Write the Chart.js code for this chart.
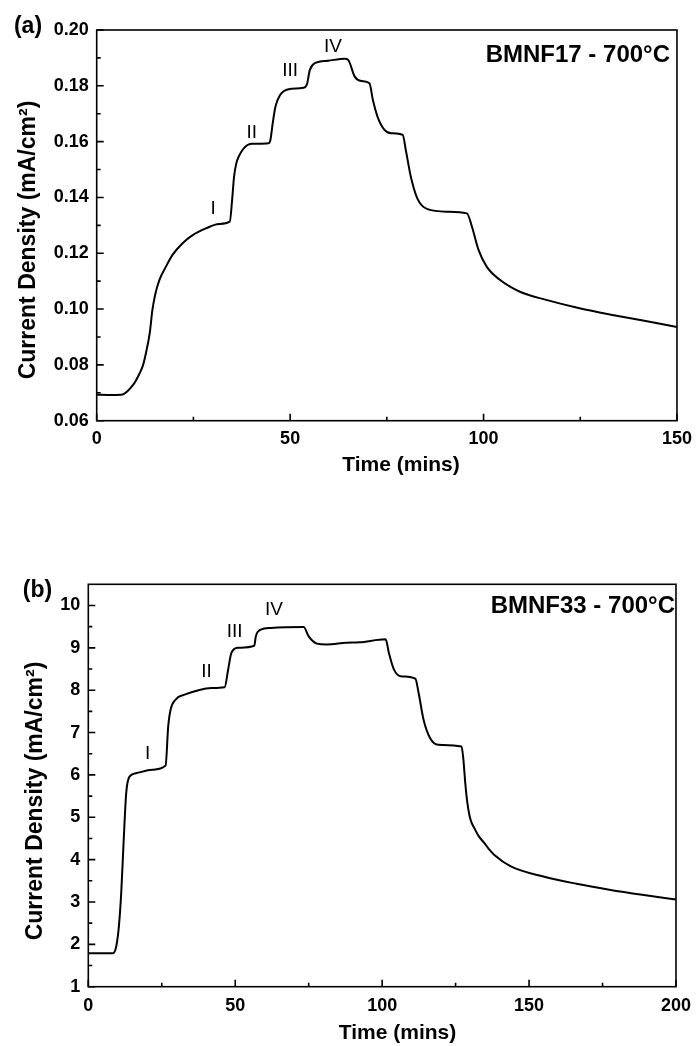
<!DOCTYPE html>
<html lang="en">
<head>
    <meta charset="UTF-8">
    <title>Current Density vs Time</title>
    <script src="https://cdn.jsdelivr.net/npm/chart.js"></script>
    <style>
        body {
            margin: 0;
            background: #fff;
        }
        #wrap {
            position: relative;
            width: 700px;
            height: 1046px;
        }
        #chartA { position: absolute; left: 0; top: 0; }
        #chartB { position: absolute; left: 0; top: 510px; }
    </style>
</head>
<body>
<div id="wrap">
    <canvas id="chartA" width="700" height="510"></canvas>
    <canvas id="chartB" width="700" height="536"></canvas>
</div>

<script>
// (a) BMNF17 - 700°C
const timeA = [0, 3, 6.4, 9.4, 11.1, 12.0, 12.8, 13.7, 14.4, 15.2, 16.2, 17.9, 19.6, 22.2, 24.8, 28.2, 31.6, 34.4,
    35.0, 35.5, 36.1, 36.7, 38.0, 40.2, 44.4, 44.9, 45.5, 46.2, 47.4, 49.6, 53.4, 54.3, 55.1, 56.4,
    59.8, 64.1, 65.0, 66.7, 68.4, 70.5, 71.4, 72.6, 74.4, 76.1, 79.1, 79.9, 81.2, 82.9, 85.5, 90.6,
    95.7, 97.0, 98.7, 100.8, 104.3, 109.4, 116.2, 124.8, 133.3, 141.9, 150];
const currentA = [0.0693, 0.0692, 0.0693, 0.0728, 0.0770, 0.0800, 0.0847, 0.0913, 0.0997, 0.1057, 0.1104, 0.1152, 0.1194, 0.1236, 0.1265, 0.1289, 0.1305, 0.1313,
    0.1390, 0.1474, 0.1523, 0.1546, 0.1576, 0.1592, 0.1594, 0.1606, 0.1666, 0.1725, 0.1767, 0.1788, 0.1793, 0.1803, 0.1857, 0.1881,
    0.1890, 0.1897, 0.1893, 0.1833, 0.1817, 0.1809, 0.1749, 0.1689, 0.1642, 0.1630, 0.1624, 0.1570, 0.1474, 0.1396, 0.1358, 0.1349,
    0.1343, 0.1295, 0.1212, 0.1152, 0.1104, 0.1062, 0.1033, 0.1003, 0.0979, 0.0957, 0.0936];
const xTicksA = [0, 50, 100, 150];
const yTicksA = [0.06, 0.08, 0.10, 0.12, 0.14, 0.16, 0.18, 0.20];
const stepLabelsA = ['I', 'II', 'III', 'IV'];
const stepTimeA = [30.1, 40.1, 50.0, 61.1];
const stepCurrentA = [0.1359, 0.1632, 0.1853, 0.1939];

// (b) BMNF33 - 700°C
const timeB = [0, 8.4, 9.5, 10.4, 11.2, 12.0, 12.9, 14.0, 16.2, 21.8, 26.3, 27.2, 28.0, 29.7, 33.0, 37.5,
    41.9, 46.4, 47.6, 48.7, 50.9, 56.5, 57.0, 58.7, 62.1, 73.3, 75.0, 77.8, 81.1, 87.8, 92.3, 101.2,
    102.3, 104.0, 106.3, 111.3, 112.4, 114.1, 116.3, 119.1, 127.0, 127.6, 128.3, 129.0, 129.8, 130.5,
    131.4, 132.8, 134.8, 136.2, 138.2, 143.8, 154.9, 166.1, 177.3, 188.5, 200];
const currentB = [1.79, 1.79, 1.95, 2.42, 3.21, 4.39, 5.57, 5.96, 6.04, 6.12, 6.22, 7.15, 7.54, 7.78, 7.90, 8.00,
    8.05, 8.07, 8.49, 8.88, 9.00, 9.05, 9.27, 9.43, 9.47, 9.49, 9.27, 9.10, 9.08, 9.12, 9.13, 9.20,
    8.88, 8.49, 8.33, 8.27, 7.94, 7.30, 6.87, 6.71, 6.67, 6.40, 5.80, 5.34, 5.02, 4.86,
    4.74, 4.56, 4.39, 4.26, 4.11, 3.84, 3.60, 3.43, 3.29, 3.17, 3.06];
const xTicksB = [0, 50, 100, 150, 200];
const yTicksB = [1, 2, 3, 4, 5, 6, 7, 8, 9, 10];
const stepLabelsB = ['I', 'II', 'III', 'IV'];
const stepTimeB = [20.2, 40.2, 49.8, 63.2];
const stepCurrentB = [6.51, 8.43, 9.37, 9.91];

Chart.defaults.font.family = '"Liberation Sans", Arial, sans-serif';
Chart.defaults.color = '#000';

// frame, inward ticks and all the text around the plot
const decor = {
    id: 'decor',
    afterDraw(chart, args, o) {
        const ctx = chart.ctx;
        const a = chart.chartArea;
        const x = chart.scales.x, y = chart.scales.y;
        ctx.save();
        ctx.strokeStyle = '#000';
        ctx.lineWidth = 1.6;
        ctx.strokeRect(a.left, a.top, a.right - a.left, a.bottom - a.top);

        ctx.beginPath();
        const xv = x.ticks.map(t => t.value);
        xv.forEach((v, i) => {
            const px = x.getPixelForValue(v);
            ctx.moveTo(px, a.bottom); ctx.lineTo(px, a.bottom - 7);
            if (i < xv.length - 1) {
                const mx = x.getPixelForValue((v + xv[i + 1]) / 2);
                ctx.moveTo(mx, a.bottom); ctx.lineTo(mx, a.bottom - 4);
            }
        });
        const yv = y.ticks.map(t => t.value);
        yv.forEach((v, i) => {
            const py = y.getPixelForValue(v);
            ctx.moveTo(a.left, py); ctx.lineTo(a.left + 7, py);
            if (i < yv.length - 1) {
                const my = y.getPixelForValue((v + yv[i + 1]) / 2);
                ctx.moveTo(a.left, my); ctx.lineTo(a.left + 4, my);
            }
        });
        ctx.stroke();

        ctx.fillStyle = '#000';
        ctx.textBaseline = 'middle';
        const fam = Chart.defaults.font.family;

        ctx.font = 'bold 23px ' + fam;
        ctx.textAlign = 'center';
        ctx.fillText(o.panel, o.panelX, o.panelY);

        ctx.font = 'bold 24px ' + fam;
        ctx.textAlign = 'right';
        ctx.fillText(o.sample, o.sampleX, o.sampleY);

        ctx.font = 'bold 21px ' + fam;
        ctx.textAlign = 'center';
        ctx.fillText('Time (mins)', o.xTitleX, o.xTitleY);

        ctx.save();
        ctx.translate(o.yTitleX, o.yTitleY);
        ctx.rotate(-Math.PI / 2);
        ctx.font = 'bold 23px ' + fam;
        ctx.fillText('Current Density (mA/cm\u00B2)', 0, 0);
        ctx.restore();

        ctx.font = '19px ' + fam;
        o.labels.forEach((lab, i) => {
            ctx.fillText(lab, x.getPixelForValue(o.lx[i]), y.getPixelForValue(o.ly[i]));
        });
        ctx.restore();
    }
};

function makeChart(id, t, v, xt, yt, xmax, ymin, ymax, yFmt, box, deco) {
    return new Chart(document.getElementById(id), {
        type: 'scatter',
        data: {
            datasets: [{
                data: t.map((tt, i) => ({ x: tt, y: v[i] })),
                showLine: true,
                borderColor: '#000',
                borderWidth: 2,
                pointRadius: 0,
                cubicInterpolationMode: 'monotone'
            }]
        },
        options: {
            responsive: false,
            animation: false,
            layout: { padding: { top: box.top, right: box.right, left: 0, bottom: 0 } },
            plugins: { legend: { display: false }, tooltip: { enabled: false }, decor: deco },
            scales: {
                x: {
                    type: 'linear',
                    min: 0,
                    max: xmax,
                    border: { display: false },
                    grid: { display: false, drawTicks: false },
                    afterBuildTicks: s => { s.ticks = xt.map(val => ({ value: val })); },
                    afterFit: s => { s.height = box.xh; },
                    ticks: { font: { size: 18, weight: 'bold' }, padding: box.xpad, maxRotation: 0 }
                },
                y: {
                    min: ymin,
                    max: ymax,
                    border: { display: false },
                    grid: { display: false, drawTicks: false },
                    afterBuildTicks: s => { s.ticks = yt.map(val => ({ value: val })); },
                    afterFit: s => { s.width = box.yw; },
                    ticks: { font: { size: 18, weight: 'bold' }, padding: 8, callback: yFmt }
                }
            }
        },
        plugins: [decor]
    });
}

makeChart('chartA', timeA, currentA, xTicksA, yTicksA, 150, 0.06, 0.20,
    val => val.toFixed(2),
    { top: 30, right: 18.3, xh: 89.3, yw: 96.7, xpad: 8 },
    { panel: '(a)', panelX: 28, panelY: 26.5, sample: 'BMNF17 - 700\u00B0C', sampleX: 670, sampleY: 55,
      xTitleX: 401, xTitleY: 465, yTitleX: 29, yTitleY: 240,
      labels: stepLabelsA, lx: stepTimeA, ly: stepCurrentA });

makeChart('chartB', timeB, currentB, xTicksB, yTicksB, 200, 1, 10.5,
    val => String(val),
    { top: 74.3, right: 16, xh: 59.3, yw: 88.3, xpad: 9 },
    { panel: '(b)', panelX: 37.5, panelY: 81, sample: 'BMNF33 - 700\u00B0C', sampleX: 675, sampleY: 96,
      xTitleX: 397.5, xTitleY: 523, yTitleX: 35.5, yTitleY: 291,
      labels: stepLabelsB, lx: stepTimeB, ly: stepCurrentB });
</script>
</body>
</html>
